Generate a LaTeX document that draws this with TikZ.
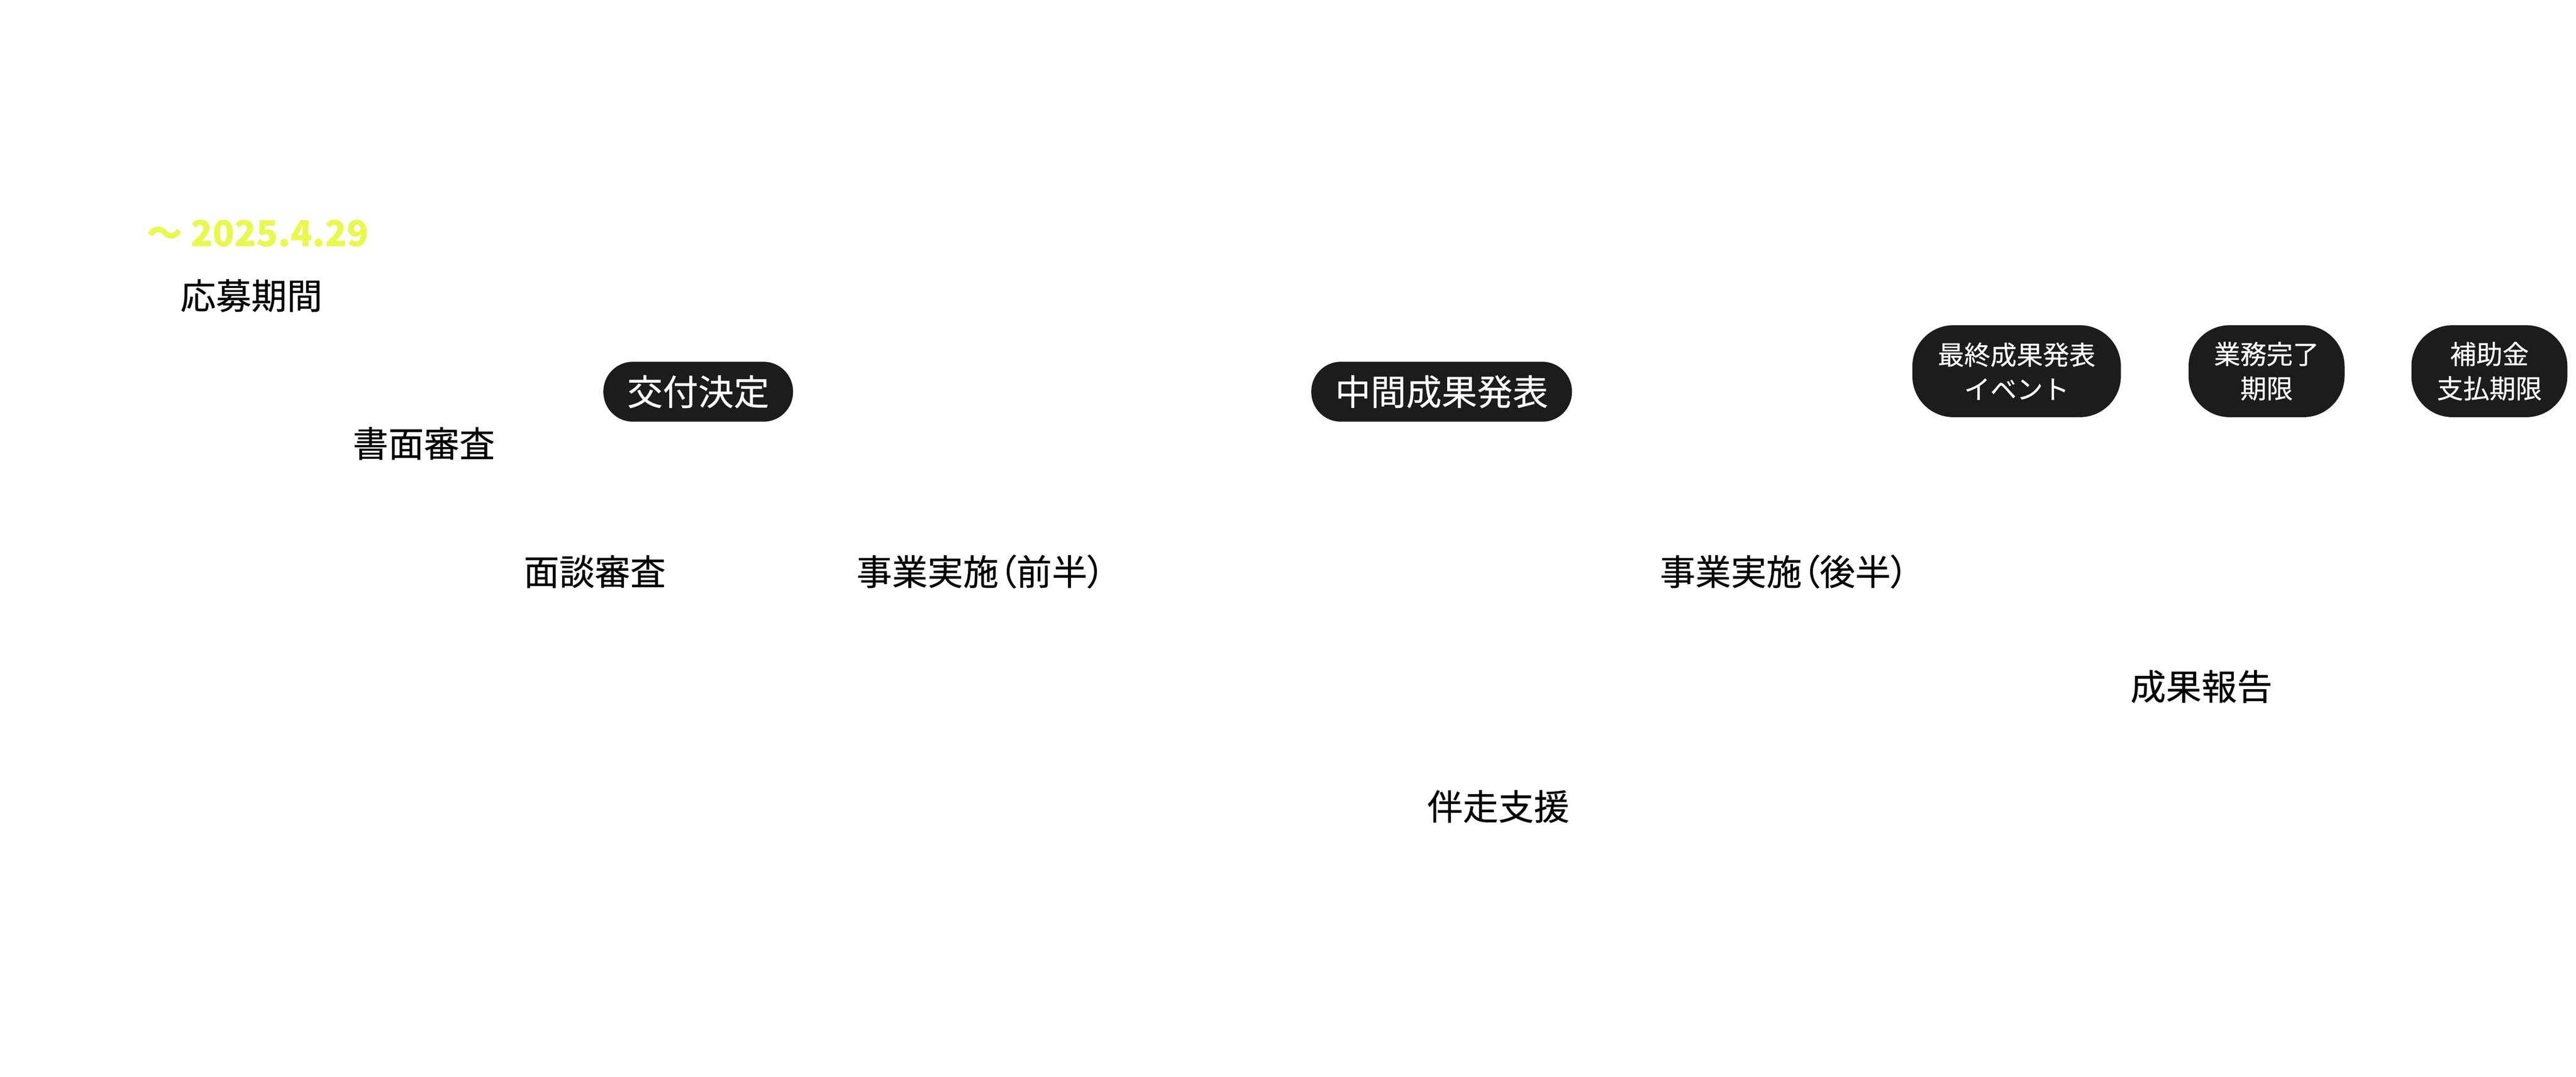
\documentclass[tikz,border=0pt]{standalone}
\usepackage{fontspec}
\setmainfont{Noto Sans CJK JP}[FakeBold=0.4]
\newfontfamily\jppalt[RawFeature=+palt, FakeBold=0.4]{Noto Sans CJK JP}
\usepackage{xcolor}
\usepackage{tikz}
\usetikzlibrary{positioning}

\definecolor{pillblack}{HTML}{1C1C1C}
\definecolor{dateyellow}{HTML}{E9F84F}

\tikzset{
    phase/.style={inner sep=0pt, text=black, font=\fontsize{12.3}{14}\selectfont},
    pill/.style={fill=pillblack, text=white, rectangle, rounded corners=0.36cm, minimum height=0.73cm, inner xsep=0.29cm, inner ysep=0pt, font=\fontsize{12.3}{14}\selectfont},
    smallpill/.style={fill=pillblack, text=white, rectangle, rounded corners=0.5cm, minimum height=1.12cm, inner xsep=0.31cm, inner ysep=0pt, align=center, font=\fontsize{9.1}{11.9}\selectfont}
}

\begin{document}
\begin{tikzpicture}[x=0.02cm, y=-0.02cm]
        \useasboundingbox (0,0) rectangle (1568,655.7);

        % schedule
        \node[anchor=west, inner sep=0pt, text=dateyellow, font=\fontsize{12.4}{15}\selectfont\bfseries] (deadline) at (89,142) {〜 2025.4.29};
        \node[phase] (apply) at (153,180) {応募期間};
        \node[phase] (paper) at (258,270) {書面審査};
        \node[phase] (interview) at (362,348) {面談審査};
        \node[phase, font=\fontsize{12.3}{14}\selectfont\jppalt] (firsthalf) at (597,348) {事業実施（前半）};
        \node[phase, font=\fontsize{12.3}{14}\selectfont\jppalt] (secondhalf) at (1086,348) {事業実施（後半）};
        \node[phase] (report) at (1340,418) {成果報告};
        \node[phase] (support) at (912,491) {伴走支援};

        % milestones
        \node[pill] (grant) at (425,238.5) {交付決定};
        \node[pill] (midterm) at (877.5,238.5) {中間成果発表};

        \node[smallpill] (finalevent) at (1227.5,226) {最終成果発表\\イベント};
        \node[smallpill, right=0.81cm of finalevent] (workend) {業務完了\\期限};
        \node[smallpill, right=0.8cm of workend] (payend) {補助金\\支払期限};
    \end{tikzpicture}
\end{document}
